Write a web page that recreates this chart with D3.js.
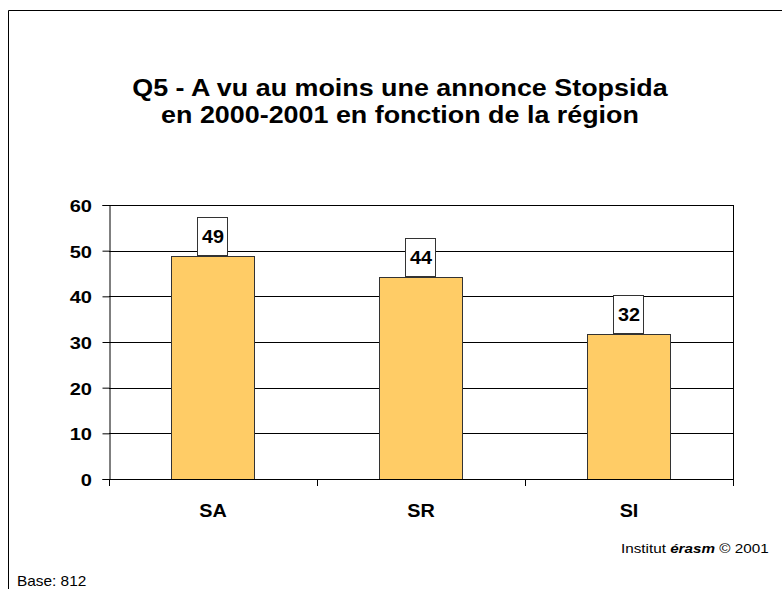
<!DOCTYPE html>
<html>
<head>
<meta charset="utf-8">
<script src="https://cdn.jsdelivr.net/npm/d3@7"></script>
<style>
  body { margin: 0; background: #fff; }
  svg { display: block; font-family: "Liberation Sans", Arial, sans-serif; }
</style>
</head>
<body>
<svg id="chart" width="782" height="589"></svg>
<script>
// data
const regions = ["SA", "SR", "SI"];
const values = [48.8, 44.3, 31.8];
const valueLabels = ["49", "44", "32"];
const yTicks = [0, 10, 20, 30, 40, 50, 60];
const titleLines = ["Q5 - A vu au moins une annonce Stopsida", "en 2000-2001 en fonction de la région"];

const svg = d3.select("#chart");
const plot = { left: 109, right: 733, top: 205, bottom: 479 };

// the original export is a bit stretched sideways, so text gets a horizontal scale
function addText(parent, x, y, str, size, anchor, sx, bold) {
    return parent.append("text")
        .attr("transform", `translate(${x},${y}) scale(${sx},1)`)
        .attr("text-anchor", anchor)
        .style("font-size", size + "px")
        .style("font-weight", bold ? "bold" : "normal")
        .text(str);
}

// outer frame (top + left only)
svg.append("path")
    .attr("d", "M8.5,589 L8.5,10.5 L782,10.5")
    .attr("fill", "none")
    .attr("stroke", "#000");

const x = d3.scaleBand()
    .domain(regions)
    .range([plot.left, plot.right])
    .paddingInner(0.6)
    .paddingOuter(0.3);

const y = d3.scaleLinear()
    .domain([0, 60])
    .range([plot.bottom, plot.top]);

// title
titleLines.forEach((t, i) => addText(svg, 400, 96 + i * 27, t, 24, "middle", 1.12, true));

// gridlines
svg.append("g")
    .selectAll("line")
    .data(yTicks.filter(d => d > 0))
    .join("line")
    .attr("x1", plot.left)
    .attr("x2", plot.right)
    .attr("y1", d => Math.round(y(d)) + 0.5)
    .attr("y2", d => Math.round(y(d)) + 0.5)
    .attr("stroke", "#000");

// right border of plot area
svg.append("line")
    .attr("x1", plot.right + 0.5).attr("x2", plot.right + 0.5)
    .attr("y1", plot.top).attr("y2", plot.bottom)
    .attr("stroke", "#000");

// y axis (line + ticks from d3, labels drawn by hand for the stretch)
const yAxis = svg.append("g")
    .attr("transform", `translate(${plot.left + 0.5},0)`)
    .call(d3.axisLeft(y).tickValues(yTicks).tickSize(7).tickFormat(""));
yAxis.select(".domain").attr("stroke", "#000");
yAxis.selectAll("line").attr("stroke", "#000");

const yLabels = svg.append("g");
yTicks.forEach(t => addText(yLabels, plot.left - 17, Math.round(y(t)) + 6.5, t, 17, "end", 1.18, true));

// bars
svg.append("g")
    .selectAll("rect")
    .data(values)
    .join("rect")
    .attr("x", (d, i) => Math.round(x(regions[i])) + 0.5)
    .attr("y", d => Math.round(y(d)) + 0.5)
    .attr("width", Math.round(x.bandwidth()))
    .attr("height", d => Math.round(y(0)) - Math.round(y(d)))
    .attr("fill", "#ffcc66")
    .attr("stroke", "#333");

// x axis
const xTickPos = [plot.left, plot.left + 208, plot.left + 416, plot.right];
svg.append("line")
    .attr("x1", plot.left).attr("x2", plot.right)
    .attr("y1", Math.round(y(0)) + 0.5).attr("y2", Math.round(y(0)) + 0.5)
    .attr("stroke", "#000");
svg.append("g")
    .selectAll("line")
    .data(xTickPos)
    .join("line")
    .attr("x1", d => d + 0.5).attr("x2", d => d + 0.5)
    .attr("y1", Math.round(y(0))).attr("y2", Math.round(y(0)) + 7)
    .attr("stroke", "#000");

const xLabels = svg.append("g");
regions.forEach(r => addText(xLabels, x(r) + x.bandwidth() / 2, 517, r, 18, "middle", 1.1, true));

// value labels in boxes
const labels = svg.append("g");
values.forEach((v, i) => {
    const cx = Math.round(x(regions[i]) + x.bandwidth() / 2);
    const top = Math.round(y(v));
    labels.append("rect")
        .attr("x", cx - 15.5)
        .attr("y", top - 38.5)
        .attr("width", 30)
        .attr("height", 38)
        .attr("fill", "#fff")
        .attr("stroke", "#333");
    addText(labels, cx, top - 13, valueLabels[i], 18, "middle", 1.1, true);
});

// footers
const inst = addText(svg, 621, 553, "", 13.5, "start", 1.13, false);
inst.append("tspan").text("Institut ");
inst.append("tspan").style("font-weight", "bold").style("font-style", "italic").text("érasm");
inst.append("tspan").text("  © 2001");

addText(svg, 17, 586, "Base: 812", 14, "start", 1.1, false);
</script>
</body>
</html>
